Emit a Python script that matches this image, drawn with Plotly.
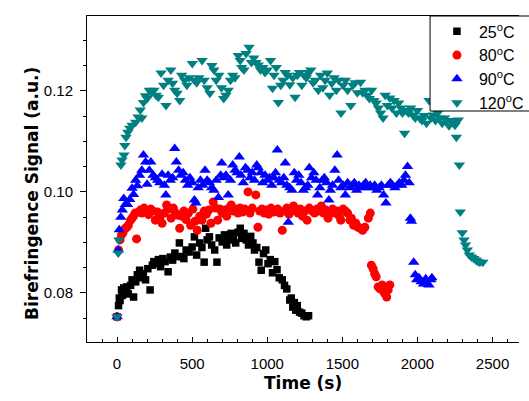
import plotly.graph_objects as go

# ---- data ----
t25 = [0, 10, 15, 20, 30, 35, 45, 55, 65, 75, 90, 100, 110, 124, 135, 150, 160, 175, 190, 205,
       220, 235, 245, 260, 275, 290, 305, 320, 340, 355, 370, 385, 400, 415, 430, 445, 460, 480,
       500, 515, 530, 550, 565, 580, 590, 600, 615, 630, 650, 665, 680, 700, 715, 730, 745, 760,
       775, 790, 805, 820, 830, 845, 860, 875, 890, 905, 915, 930, 945, 960, 975, 990, 1005, 1020,
       1035, 1050, 1065, 1080, 1100, 1115, 1130, 1150, 1160, 1170, 1180, 1190, 1200, 1215, 1230,
       1245, 1260, 1275]
s25 = [0.0753, 0.0775, 0.0790, 0.0785, 0.0806, 0.0795, 0.0810, 0.0805, 0.0812, 0.0798, 0.0815,
       0.0826, 0.0792, 0.0822, 0.0836, 0.0845, 0.0830, 0.0838, 0.0826, 0.0848, 0.0806, 0.0855,
       0.0862, 0.0858, 0.0866, 0.0852, 0.0868, 0.0862, 0.0842, 0.0871, 0.0865, 0.0879, 0.0872,
       0.0899, 0.0872, 0.0868, 0.0885, 0.0881, 0.0891, 0.0911, 0.0875, 0.0899, 0.0890, 0.0861,
       0.0928, 0.0905, 0.0911, 0.0895, 0.0885, 0.0861, 0.0909, 0.0901, 0.0915, 0.0895, 0.0905,
       0.0918, 0.0912, 0.0899, 0.0920, 0.0928, 0.0908, 0.0918, 0.0905, 0.0895, 0.0912, 0.0899,
       0.0885, 0.0890, 0.0861, 0.0845, 0.0878, 0.0885, 0.0858, 0.0866, 0.0840, 0.0862, 0.0846,
       0.0830, 0.0826, 0.0815, 0.0808, 0.0786, 0.0790, 0.0772, 0.0781, 0.0766, 0.0775, 0.0762,
       0.0760, 0.0755, 0.0753, 0.0755]

t80 = [0, 10, 20, 30, 40, 55, 65, 75, 90, 100, 110, 120, 130, 145, 155, 165, 180, 195, 210, 225,
       240, 255, 270, 285, 300, 315, 330, 345, 360, 375, 390, 405, 417, 430, 445, 460, 475, 490,
       505, 520, 534, 550, 565, 580, 595, 610, 625, 640, 655, 670, 685, 700, 715, 730, 745, 760,
       775, 790, 805, 820, 835, 850, 872, 885, 900, 924, 938, 950, 965, 980, 995, 1010, 1025, 1040,
       1055, 1070, 1085, 1100, 1115, 1130, 1145, 1160, 1175, 1190, 1205, 1220, 1235, 1250, 1265,
       1280, 1300, 1315, 1330, 1345, 1360, 1375, 1390, 1405, 1420, 1435, 1450, 1465, 1480, 1490,
       1505, 1520, 1535, 1550, 1560, 1575, 1590, 1605, 1620, 1635, 1650, 1673, 1686, 1693, 1705,
       1715, 1725, 1738, 1750, 1765, 1780, 1795, 1805, 1816]
s80 = [0.0753, 0.0885, 0.0905, 0.0915, 0.0919, 0.0928, 0.0930, 0.0934, 0.0944, 0.0948, 0.0952,
       0.0958, 0.0907, 0.0960, 0.0964, 0.0958, 0.0968, 0.0962, 0.0955, 0.0966, 0.0962, 0.0944,
       0.0960, 0.0950, 0.0938, 0.0958, 0.0974, 0.0966, 0.0948, 0.0968, 0.0958, 0.0954, 0.0928,
       0.0952, 0.0962, 0.0945, 0.0958, 0.0934, 0.0966, 0.0942, 0.0924, 0.0952, 0.0944, 0.0962,
       0.0956, 0.0964, 0.0938, 0.0980, 0.0968, 0.0944, 0.0966, 0.0958, 0.0964, 0.0952, 0.0968,
       0.0974, 0.0962, 0.0966, 0.0958, 0.0968, 0.0960, 0.0966, 0.1000, 0.0958, 0.0968, 0.0994,
       0.0930, 0.0962, 0.0966, 0.0958, 0.0964, 0.0956, 0.0968, 0.0960, 0.0962, 0.0966, 0.0958,
       0.0924, 0.0962, 0.0968, 0.0956, 0.0964, 0.0972, 0.0962, 0.0958, 0.0966, 0.0952, 0.0962,
       0.0944, 0.0968, 0.0962, 0.0958, 0.0966, 0.0962, 0.0972, 0.0958, 0.0964, 0.0948, 0.0962,
       0.0966, 0.0958, 0.0962, 0.0952, 0.0944, 0.0966, 0.0962, 0.0958, 0.0944, 0.0948, 0.0934,
       0.0938, 0.0930, 0.0928, 0.0924, 0.0930, 0.0948, 0.0958, 0.0855, 0.0848, 0.0838, 0.0832,
       0.0812, 0.0808, 0.0816, 0.0800, 0.0792, 0.0806, 0.0816]

t90 = [0, 8, 15, 25, 35, 45, 55, 70, 85, 100, 110, 124, 135, 150, 165, 176, 190, 200, 215, 225,
       240, 255, 270, 285, 300, 315, 325, 340, 355, 370, 384, 395, 410, 425, 440, 455, 470, 485,
       500, 515, 525, 540, 555, 570, 586, 600, 615, 630, 645, 660, 675, 690, 697, 710, 725, 740,
       755, 770, 785, 800, 814, 825, 840, 855, 870, 885, 900, 915, 930, 940, 955, 970, 985, 1000,
       1015, 1030, 1045, 1055, 1067, 1080, 1095, 1110, 1120, 1130, 1140, 1150, 1165, 1180, 1195,
       1210, 1225, 1240, 1255, 1270, 1280, 1295, 1310, 1325, 1335, 1350, 1365, 1380, 1395, 1410,
       1420, 1435, 1450, 1465, 1475, 1490, 1505, 1520, 1535, 1550, 1565, 1580, 1595, 1610, 1625,
       1640, 1655, 1670, 1685, 1700, 1715, 1730, 1745, 1760, 1775, 1790, 1805, 1820, 1835, 1850,
       1865, 1880, 1895, 1910, 1920, 1934, 1945, 1953, 1960, 1975, 1985, 1995, 2010, 2025, 2040,
       2055, 2065, 2077, 2090, 2096]
s90 = [0.0753, 0.0885, 0.0925, 0.0950, 0.0964, 0.0987, 0.0975, 0.0975, 0.0985, 0.1007, 0.0995,
       0.1023, 0.1012, 0.1033, 0.1043, 0.1073, 0.1059, 0.1015, 0.1043, 0.1059, 0.1033, 0.1028,
       0.1023, 0.1018, 0.1035, 0.1013, 0.0994, 0.1033, 0.1023, 0.1028, 0.1086, 0.1059, 0.1043,
       0.1033, 0.1038, 0.1023, 0.1013, 0.1028, 0.1018, 0.0984, 0.0978, 0.1008, 0.1023, 0.1013,
       0.1043, 0.1023, 0.1018, 0.1008, 0.1003, 0.1023, 0.0989, 0.1033, 0.1057, 0.1028, 0.1033,
       0.0994, 0.1023, 0.1053, 0.1043, 0.1038, 0.1069, 0.1033, 0.1018, 0.1048, 0.1043, 0.1028,
       0.1038, 0.1023, 0.1053, 0.1048, 0.1038, 0.1018, 0.1033, 0.1023, 0.1028, 0.1013, 0.1028,
       0.1038, 0.1083, 0.1023, 0.1018, 0.1028, 0.1057, 0.1013, 0.0940, 0.1008, 0.1003, 0.1038,
       0.1023, 0.1033, 0.1018, 0.1003, 0.1008, 0.1013, 0.1048, 0.1028, 0.1038, 0.1023, 0.0994,
       0.1008, 0.1023, 0.1028, 0.1018, 0.0984, 0.1003, 0.1013, 0.1043, 0.1073, 0.1023, 0.1008,
       0.1013, 0.0994, 0.1018, 0.1008, 0.1013, 0.1018, 0.1003, 0.1013, 0.1008, 0.1013, 0.1018,
       0.1008, 0.1013, 0.1008, 0.1013, 0.1003, 0.1008, 0.1013, 0.0994, 0.0978, 0.1013, 0.1018,
       0.1013, 0.1008, 0.1013, 0.1018, 0.1013, 0.1023, 0.1033, 0.1050, 0.1018, 0.0948, 0.0942,
       0.0861, 0.0836, 0.0826, 0.0830, 0.0822, 0.0818, 0.0828, 0.0818, 0.0816, 0.0826, 0.0830]

t120 = [0, 8, 12, 26, 33, 46, 52, 60, 72, 85, 100, 124, 140, 155, 165, 176, 189, 200, 215, 228,
        245, 260, 275, 293, 310, 326, 340, 358, 370, 384, 400, 417, 430, 450, 465, 480, 501, 515,
        530, 545, 566, 580, 600, 618, 631, 645, 660, 678, 695, 710, 725, 740, 755, 770, 785, 807,
        820, 830, 845, 859, 879, 895, 910, 925, 940, 955, 970, 985, 1000, 1022, 1035, 1045, 1060,
        1074, 1090, 1105, 1120, 1135, 1150, 1170, 1185, 1200, 1215, 1230, 1245, 1260, 1275, 1290,
        1305, 1320, 1340, 1355, 1370, 1385, 1400, 1415, 1430, 1445, 1460, 1475, 1491, 1505, 1520,
        1535, 1556, 1570, 1585, 1600, 1621, 1635, 1650, 1665, 1680, 1695, 1710, 1725, 1740, 1755,
        1771, 1785, 1800, 1816, 1830, 1845, 1860, 1875, 1890, 1900, 1914, 1925, 1940, 1955, 1970,
        1985, 2000, 2015, 2030, 2045, 2060, 2077, 2090, 2105, 2120, 2135, 2150, 2165, 2180, 2195,
        2210, 2225, 2240, 2250, 2259, 2272, 2279, 2285, 2298, 2310, 2320, 2332, 2345, 2360, 2375,
        2389, 2400, 2415, 2435]
s120 = [0.0753, 0.0879, 0.0905, 0.1053, 0.1063, 0.1073, 0.1092, 0.1108, 0.1118, 0.1126, 0.1132,
        0.1138, 0.1148, 0.1162, 0.1146, 0.1177, 0.1190, 0.1185, 0.1201, 0.1196, 0.1201, 0.1191,
        0.1187, 0.1235, 0.1211, 0.1171, 0.1221, 0.1241, 0.1215, 0.1201, 0.1195, 0.1181, 0.1231,
        0.1221, 0.1211, 0.1226, 0.1254, 0.1221, 0.1216, 0.1226, 0.1260, 0.1221, 0.1206, 0.1195,
        0.1250, 0.1241, 0.1221, 0.1231, 0.1206, 0.1185, 0.1191, 0.1201, 0.1221, 0.1231, 0.1226,
        0.1270, 0.1260, 0.1246, 0.1241, 0.1274, 0.1286, 0.1256, 0.1265, 0.1256, 0.1251, 0.1241,
        0.1246, 0.1236, 0.1241, 0.1260, 0.1205, 0.1231, 0.1246, 0.1177, 0.1211, 0.1221, 0.1236,
        0.1231, 0.1212, 0.1226, 0.1187, 0.1231, 0.1236, 0.1211, 0.1231, 0.1226, 0.1236, 0.1241,
        0.1216, 0.1221, 0.1201, 0.1231, 0.1206, 0.1221, 0.1235, 0.1191, 0.1215, 0.1226, 0.1201,
        0.1221, 0.1156, 0.1211, 0.1221, 0.1201, 0.1171, 0.1211, 0.1216, 0.1196, 0.1217, 0.1196,
        0.1201, 0.1191, 0.1185, 0.1201, 0.1181, 0.1176, 0.1166, 0.1156, 0.1146, 0.1191, 0.1171,
        0.1186, 0.1166, 0.1181, 0.1156, 0.1176, 0.1166, 0.1156, 0.1116, 0.1161, 0.1156, 0.1166,
        0.1152, 0.1146, 0.1161, 0.1146, 0.1141, 0.1151, 0.1136, 0.1181, 0.1146, 0.1152, 0.1141,
        0.1156, 0.1146, 0.1136, 0.1146, 0.1141, 0.1131, 0.1141, 0.1136, 0.1132, 0.1108, 0.1142,
        0.1053, 0.0960, 0.0919, 0.0905, 0.0895, 0.0885, 0.0875, 0.0871, 0.0868, 0.0865, 0.0863,
        0.0861, 0.0861]

names = ["25<sup>o</sup>C", "80<sup>o</sup>C", "90<sup>o</sup>C", "120<sup>o</sup>C"]
colors = ["#000000", "#ff0000", "#0000ff", "#008080"]
symbols = ["square", "circle", "triangle-up", "triangle-down"]
sizes = [7.5, 9, 10, 10]

fig = go.Figure()
for t, s, n, c, sy, sz in zip([t25, t80, t90, t120], [s25, s80, s90, s120],
                              names, colors, symbols, sizes):
    fig.add_trace(go.Scatter(x=t, y=s, mode="markers", name=n, hoverinfo="skip",
                             marker=dict(color=c, symbol=sy, size=sz, line=dict(width=0))))

W, H = 529, 401
L, R, T, B = 87, 0, 16, 59
pw, ph = W - L - R, H - T - B

fig.update_layout(
    width=W, height=H, autosize=False, hovermode=False,
    margin=dict(l=L, r=R, t=T, b=B, pad=0),
    paper_bgcolor="white", plot_bgcolor="white",
    font=dict(family="Liberation Sans, Arial, sans-serif", size=15, color="black"),
    showlegend=True,
    legend=dict(x=(443 - L) / pw, y=1.005, xanchor="left", yanchor="top",
                bgcolor="rgba(0,0,0,0)", borderwidth=0,
                font=dict(size=16, family="Liberation Sans, Arial, sans-serif"),
                itemwidth=34, tracegroupgap=0),
    shapes=[dict(type="rect", xref="paper", yref="paper",
                 x0=(438 - L) / pw, x1=1.05, y0=(342 - 111) / ph, y1=1.0,
                 fillcolor="white", line=dict(color="black", width=1), layer="above")],
    annotations=[
        dict(text="<b>Time (s)</b>", xref="paper", yref="paper", x=0.5, y=0,
             xanchor="center", yanchor="middle", yshift=-41, showarrow=False,
             font=dict(family="DejaVu Sans, sans-serif", size=17)),
        dict(text="<b>Birefringence Signal (a.u.)</b>", xref="paper", yref="paper",
             x=0, y=0.5, xanchor="center", yanchor="middle", xshift=-55, yshift=-15,
             textangle=-90, showarrow=False,
             font=dict(family="DejaVu Sans, sans-serif", size=17)),
    ],
)
fig.update_xaxes(range=[-200, 2676], showline=True, linecolor="black", linewidth=1,
                 mirror=True, ticks="inside", ticklen=5, tickcolor="black", dtick=500, tick0=0,
                 showgrid=False, zeroline=False, ticklabelstandoff=8,
                 minor=dict(dtick=100, ticks="inside", ticklen=3, tickcolor="black", showgrid=False))
fig.update_yaxes(range=[0.0703, 0.1348], showline=True, linecolor="black", linewidth=1,
                 ticks="outside", ticklen=6, tickcolor="black", dtick=0.02, tick0=0,
                 tickformat=".2f", showgrid=False, zeroline=False, ticklabelstandoff=4,
                 minor=dict(dtick=0.005, ticks="outside", ticklen=3, tickcolor="black", showgrid=False))

fig.write_html(
    "out.html",
    config={"responsive": False, "displayModeBar": False, "staticPlot": True},
    post_script="document.body.style.margin='0';document.body.style.overflow='hidden';",
)
